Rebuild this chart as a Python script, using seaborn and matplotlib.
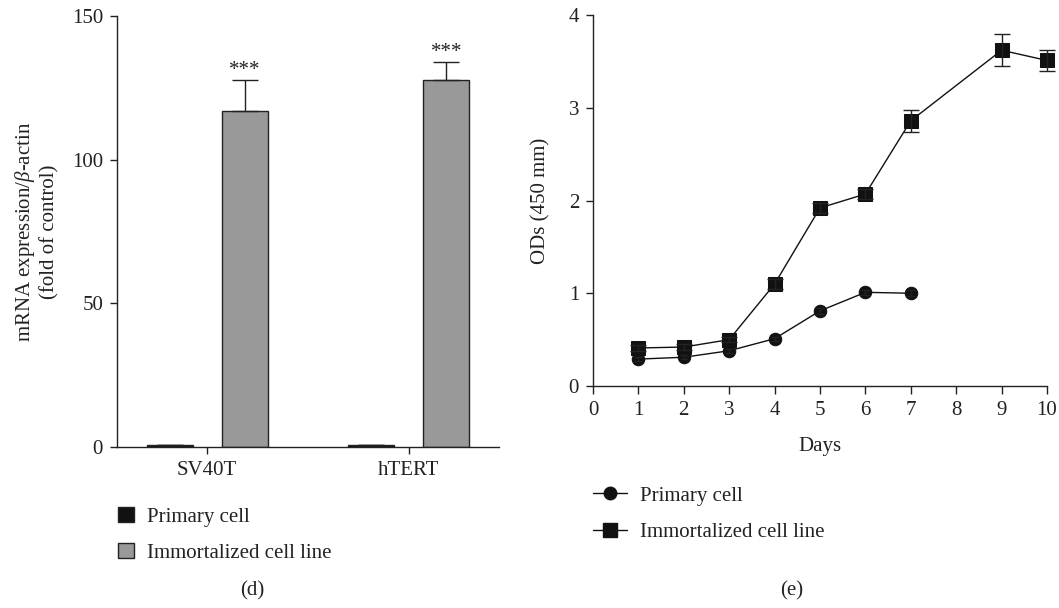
import pandas as pd
import matplotlib
matplotlib.use("Agg")
import matplotlib.pyplot as plt
import matplotlib.patches as mpatches
from matplotlib.lines import Line2D
import seaborn as sns

# (d) mRNA expression, fold of control
genes = ["SV40T", "hTERT"]
groups = ["Primary cell", "Immortalized cell line"]
primary_mean = [0.6, 0.6]
primary_err = [0.2, 0.2]
immortal_mean = [116.8, 127.6]
immortal_err = [10.8, 6.4]

# (e) growth curve, OD at 450
primary_days = [1, 2, 3, 4, 5, 6, 7]
primary_od = [0.29, 0.31, 0.38, 0.51, 0.81, 1.01, 1.00]
primary_od_err = [0.02, 0.02, 0.02, 0.02, 0.03, 0.03, 0.03]
immortal_days = [1, 2, 3, 4, 5, 6, 7, 9, 10]
immortal_od = [0.41, 0.42, 0.50, 1.10, 1.92, 2.07, 2.86, 3.62, 3.51]
immortal_od_err = [0.03, 0.03, 0.03, 0.05, 0.05, 0.05, 0.12, 0.17, 0.11]

FS = 15

sns.set_style("ticks")
plt.rcParams["font.family"] = ["Liberation Serif", "DejaVu Serif"]
plt.rcParams["mathtext.fontset"] = "custom"
plt.rcParams["mathtext.it"] = "Liberation Serif:italic"
plt.rcParams["mathtext.rm"] = "Liberation Serif"
plt.rcParams["axes.edgecolor"] = "#222222"
plt.rcParams["axes.linewidth"] = 1.0
plt.rcParams["xtick.color"] = "#222222"
plt.rcParams["ytick.color"] = "#222222"
plt.rcParams["text.color"] = "#222222"
plt.rcParams["axes.labelcolor"] = "#222222"

W, H = 1059, 608
fig = plt.figure(figsize=(W / 100, H / 100), dpi=100)

def px_axes(x0, x1, ytop, ybot):
    return fig.add_axes([x0 / W, 1 - ybot / H, (x1 - x0) / W, (ybot - ytop) / H])

bar_colors = {"Primary cell": "#111111", "Immortalized cell line": "#999999"}

# ---- panel (d): bar chart
ax1 = px_axes(117, 499, 16, 447)
bars = pd.DataFrame({
    "gene": genes * 2,
    "group": [groups[0]] * 2 + [groups[1]] * 2,
    "value": primary_mean + immortal_mean,
})
sns.barplot(data=bars, x="gene", y="value", hue="group", order=genes, hue_order=groups,
            palette=bar_colors, width=0.743, gap=0.386, errorbar=None,
            edgecolor="#222222", linewidth=1.0, legend=False, ax=ax1)

errs = {groups[0]: primary_err, groups[1]: immortal_err}
for p in ax1.patches:
    xc = p.get_x() + p.get_width() / 2
    gi = int(round(xc))
    grp = groups[0] if xc < gi else groups[1]
    h = p.get_height()
    e = errs[grp][gi]
    ax1.errorbar(xc, h, yerr=[[0], [e]], fmt="none", ecolor="#222222",
                 elinewidth=1.0, capsize=9.5, capthick=1.0)
    if grp == groups[1]:
        ax1.annotate("***", (xc, h + e), xytext=(0, 0), textcoords="offset points",
                     ha="center", va="bottom", fontsize=FS)

ax1.set_xlim(-0.446, 1.446)
ax1.set_ylim(0, 150)
ax1.set_yticks([0, 50, 100, 150])
ax1.set_xlabel("")
ax1.set_ylabel("mRNA expression/$\\beta$-actin\n(fold of control)", fontsize=FS, labelpad=9)
ax1.tick_params(labelsize=FS, length=5, width=1.0, pad=5)
sns.despine(ax=ax1)

# ---- panel (e): growth curve
ax2 = px_axes(593, 1047, 15, 386)
growth = pd.DataFrame({
    "day": primary_days + immortal_days,
    "od": primary_od + immortal_od,
    "group": [groups[0]] * len(primary_days) + [groups[1]] * len(immortal_days),
})
for grp, mk, ms in [(groups[0], "o", 9), (groups[1], "s", 10.5)]:
    sns.lineplot(data=growth[growth["group"] == grp], x="day", y="od",
                 color="#111111", marker=mk, markersize=ms, markeredgecolor="#111111",
                 linewidth=1.0, clip_on=False, ax=ax2)
# error bars (small ones are hidden behind the markers)
ax2.errorbar(immortal_days, immortal_od, yerr=immortal_od_err, fmt="none",
             ecolor="#222222", elinewidth=1.0, capsize=5.5, capthick=1.0, clip_on=False)
ax2.errorbar(primary_days, primary_od, yerr=primary_od_err, fmt="none",
             ecolor="#222222", elinewidth=1.0, capsize=3, capthick=1.0)

ax2.set_xlim(0, 10)
ax2.set_ylim(0, 4)
ax2.set_xticks(range(0, 11))
ax2.set_yticks(range(0, 5))
ax2.set_xlabel("Days", fontsize=FS, labelpad=12)
ax2.set_ylabel("ODs (450 mm)", fontsize=FS, labelpad=13)
ax2.tick_params(labelsize=FS, length=6, width=1.0, pad=5)
ax2.tick_params(axis="y", length=5)
sns.despine(ax=ax2)

# ---- legends
bar_handles = [mpatches.Patch(facecolor=bar_colors[g], edgecolor="#222222", linewidth=1.0)
               for g in groups]
fig.legend(bar_handles, groups, loc="upper left", bbox_to_anchor=(118 / W, 1 - 507 / H),
           frameon=False, fontsize=FS, borderpad=0, borderaxespad=0,
           handlelength=0.75, handleheight=0.75, handletextpad=0.65, labelspacing=0.78)

line_handles = [Line2D([], [], color="#111111", marker=m, markersize=ms, linewidth=1.0)
                for m, ms in [("o", 9), ("s", 10)]]
fig.legend(line_handles, groups, loc="upper left", bbox_to_anchor=(593 / W, 1 - 486 / H),
           frameon=False, fontsize=FS, borderpad=0, borderaxespad=0,
           handlelength=1.65, handletextpad=0.6, labelspacing=0.83)

fig.text(252 / W, 1 - 591 / H, "(d)", ha="center", va="center", fontsize=FS)
fig.text(792 / W, 1 - 591 / H, "(e)", ha="center", va="center", fontsize=FS)

fig.savefig("out.png", dpi=100)
